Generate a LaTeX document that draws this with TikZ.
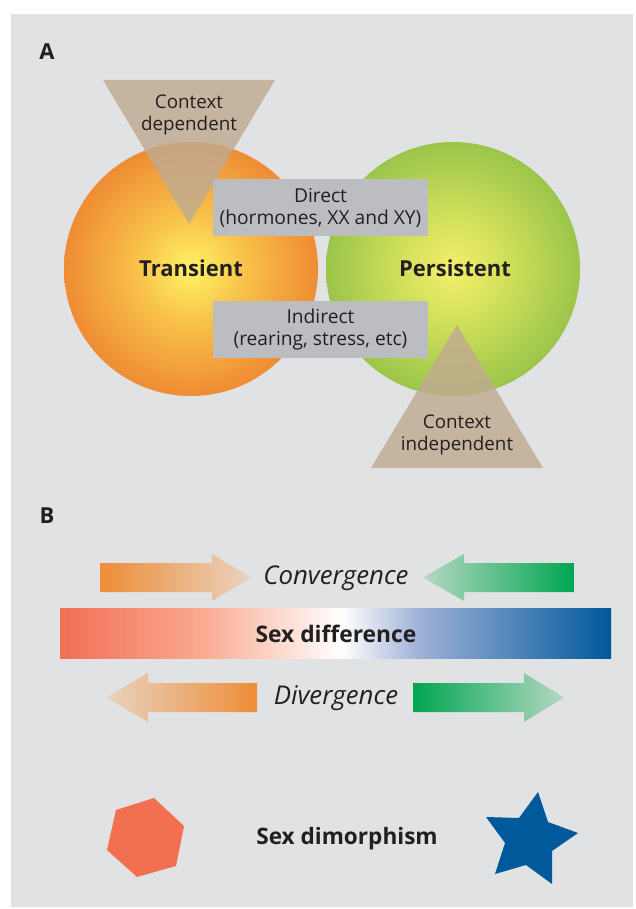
\documentclass[tikz,border=0pt]{standalone}
\usepackage{fontspec}
\setmainfont{Open Sans}
\usetikzlibrary{shapes.geometric}
\definecolor{bg}{HTML}{E1E2E4}
\definecolor{txt}{HTML}{231F20}
\definecolor{ylw}{HTML}{FFF366}
\definecolor{orgmid}{HTML}{F8C049}
\definecolor{org}{HTML}{EF8C34}
\definecolor{gylw}{HTML}{F5EF6A}
\definecolor{gmid}{HTML}{CFDF5A}
\definecolor{grn}{HTML}{9BC54A}
\definecolor{tan}{RGB}{192,170,145}
\definecolor{boxgray}{HTML}{BCBDC0}
\definecolor{arrorg}{HTML}{EE8D37}
\definecolor{arrlt}{HTML}{E9D3BF}
\definecolor{arrgrn}{HTML}{00A651}
\definecolor{arrglt}{HTML}{B5D8C2}
\definecolor{coral}{HTML}{F26F55}
\definecolor{peach}{HTML}{F9A98F}
\definecolor{lblue}{HTML}{9DB0D6}
\definecolor{dblue}{HTML}{00599B}
\definecolor{hexc}{HTML}{F26F50}
\pgfdeclareradialshading{orangeball}{\pgfpoint{0bp}{0bp}}{color(0bp)=(ylw); color(11bp)=(orgmid); color(25bp)=(org); color(50bp)=(org)}
\pgfdeclareradialshading{greenball}{\pgfpoint{0bp}{0bp}}{color(0bp)=(gylw); color(11bp)=(gmid); color(25bp)=(grn); color(50bp)=(grn)}
\tikzset{
  lbl/.style={text=txt, font=\fontsize{22}{26}\selectfont\bfseries, inner sep=0pt},
  bigbold/.style={text=txt, font=\fontsize{22}{26}\selectfont\bfseries, inner sep=0pt},
  small/.style={text=txt, font=\fontsize{18.8}{22}\selectfont, align=center, inner sep=0pt},
  gbox/.style={fill=boxgray, minimum width=215pt, minimum height=57pt, inner sep=0pt, align=center, text=txt, font=\fontsize{19.2}{22}\selectfont},
  tri/.style={fill=tan, fill opacity=0.82},
  itl/.style={text=txt, font=\fontsize{25.8}{28}\selectfont\itshape, inner sep=0pt},
}
\begin{document}
\begin{tikzpicture}[x=1pt,y=-1pt]
\useasboundingbox (0,0) rectangle (635,909);
\fill[bg] (11,14) rectangle (633,907);
% Panel A
\node[lbl] (labA) at (47,52) {A};
\shade[shading=orangeball] (191,269) circle (127);
\shade[shading=greenball] (453,269) circle (127);
\fill[tri] (103,80) -- (275,80) -- (189,224) -- cycle;
\fill[tri] (371,468) -- (543,468) -- (457,325) -- cycle;
\node[small] (cdep) at (189,115) {Context\\dependent};
\node[small] (cind) at (457,435) {Context\\independent};
\node[gbox] (direct) at (320.5,207.5) {Direct\\(hormones, XX and XY)};
\node[gbox] (indirect) at (320.5,329.5) {Indirect\\(rearing, stress, etc)};
\node[bigbold] (trans) at (191,268) {Transient};
\node[bigbold] (pers) at (455,268) {Persistent};
% Panel B
\node[lbl] (labB) at (47,516) {B};
\shade[left color=arrorg, right color=arrlt] (100,563) -- (212,563) -- (212,554) -- (251,577.5) -- (212,601) -- (212,592) -- (100,592) -- cycle;
\shade[left color=arrglt, right color=arrgrn] (574,563) -- (464,563) -- (464,554) -- (423,577.5) -- (464,601) -- (464,592) -- (574,592) -- cycle;
\node[itl] (conv) at (336,578) {Convergence};
\shade[left color=coral, right color=peach] (60,608) rectangle (200.5,658);
\shade[left color=peach, right color=white] (200,608) rectangle (341.5,658);
\shade[left color=white, right color=lblue] (341,608) rectangle (420.5,658);
\shade[left color=lblue, right color=dblue] (420,608) rectangle (611,658);
\node[text=txt, font=\fontsize{22.8}{26}\selectfont\bfseries, inner sep=0pt] (sexdiff) at (336,634) {Sex difference};
\shade[left color=arrlt, right color=arrorg] (257,683) -- (148,683) -- (148,673) -- (106,697.5) -- (148,722) -- (148,712) -- (257,712) -- cycle;
\shade[left color=arrgrn, right color=arrglt] (413,683) -- (524,683) -- (524,673) -- (564,697.5) -- (524,722) -- (524,712) -- (413,712) -- cycle;
\node[itl] (div) at (336,698) {Divergence};
\fill[hexc] (116,810) -- (154,798) -- (184,826) -- (176,866) -- (137,877) -- (107,850) -- cycle;
\fill[dblue] (538,792) -- (548,822) -- (578,833) -- (552,851) -- (552,884) -- (526,865) -- (495,874) -- (505,843) -- (486,817) -- (519,818) -- cycle;
\node[text=txt, font=\fontsize{22.6}{26}\selectfont\bfseries, inner sep=0pt] (dimor) at (347,839) {Sex dimorphism};
\end{tikzpicture}
\end{document}
